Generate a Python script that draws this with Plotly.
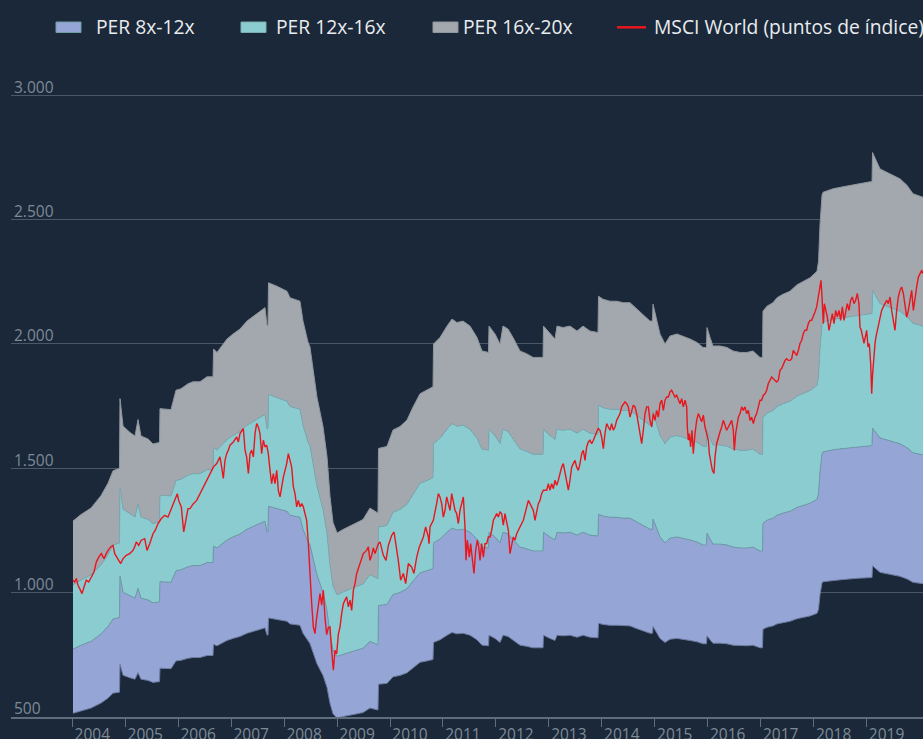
import plotly.graph_objects as go

# ---------------- DATA ----------------
# Time is expressed as decimal years.
# Earnings per share proxy (index points) -> PER bands = EPS x multiple
bpa_t_a = [2004.013, 2004.164, 2004.353, 2004.542, 2004.674, 2004.769, 2004.891, 2004.901, 2004.958, 2005.090,
           2005.184, 2005.241, 2005.297, 2005.430, 2005.524, 2005.619, 2005.647, 2005.656, 2005.864, 2005.958,
           2006.053, 2006.185, 2006.280, 2006.412, 2006.544, 2006.657, 2006.667, 2006.733, 2006.922, 2007.035,
           2007.167, 2007.299, 2007.488, 2007.639, 2007.677, 2007.696, 2007.705, 2007.866, 2008.055, 2008.111,
           2008.300, 2008.357, 2008.451, 2008.489, 2008.621, 2008.735, 2008.810, 2008.867, 2008.924, 2009.000,
           2009.112, 2009.245, 2009.377, 2009.490, 2009.622, 2009.755, 2009.773, 2009.783, 2009.943, 2010.057,
           2010.189, 2010.321, 2010.434, 2010.567, 2010.699, 2010.812, 2010.822, 2010.944, 2011.077, 2011.171,
           2011.265, 2011.379, 2011.511, 2011.643, 2011.738, 2011.860]
bpa_v_a = [64.4, 65.7, 67.0, 69.5, 72.0, 74.5, 75.0, 89.0, 83.5, 82.2,
           81.5, 84.8, 81.5, 80.9, 79.9, 80.2, 80.2, 87.0, 86.8, 90.7,
           91.0, 92.0, 92.4, 92.4, 93.4, 93.4, 99.0, 98.3, 101.0, 102.0,
           103.0, 104.6, 106.0, 107.3, 103.7, 103.7, 112.3, 111.6, 110.6, 109.3,
           108.6, 104.6, 100.4, 99.4, 89.3, 83.4, 77.4, 69.4, 64.1, 62.0,
           62.7, 63.4, 64.1, 64.7, 67.0, 66.0, 66.0, 79.0, 79.4, 82.7,
           83.4, 84.7, 87.3, 90.0, 90.7, 91.4, 100.0, 101.3, 103.6, 105.0,
           104.3, 104.6, 103.6, 101.3, 98.6, 98.3]
bpa_t_b = [2011.870, 2011.983, 2012.078, 2012.134, 2012.229, 2012.323, 2012.455, 2012.587, 2012.701, 2012.890,
           2012.899, 2013.022, 2013.116, 2013.154, 2013.267, 2013.400, 2013.532, 2013.645, 2013.777, 2013.928,
           2013.938, 2014.023, 2014.155, 2014.287, 2014.401, 2014.533, 2014.665, 2014.778, 2014.910, 2014.958,
           2014.967, 2015.043, 2015.099, 2015.194, 2015.288, 2015.420, 2015.534, 2015.666, 2015.798, 2015.911,
           2015.977, 2015.987, 2016.044, 2016.100, 2016.232, 2016.365, 2016.478, 2016.610, 2016.742, 2016.856,
           2016.988, 2017.035, 2017.044, 2017.120, 2017.233, 2017.309, 2017.422, 2017.554, 2017.687, 2017.800,
           2017.932, 2018.064, 2018.093, 2018.121, 2018.159, 2018.178, 2018.367, 2018.555, 2018.820, 2019.065,
           2019.103, 2019.113, 2019.254, 2019.443, 2019.632, 2019.764, 2019.877, 2020.066]
bpa_v_b = [103.6, 102.0, 100.0, 103.6, 103.0, 101.3, 98.6, 98.0, 97.3, 97.3,
           103.6, 102.0, 101.0, 103.6, 103.3, 103.6, 102.6, 103.6, 102.6, 102.3,
           109.6, 109.0, 108.6, 108.6, 108.3, 108.3, 106.9, 105.9, 104.6, 104.6,
           108.0, 104.6, 102.0, 100.0, 101.6, 102.0, 101.6, 101.0, 100.3, 99.3,
           99.3, 103.3, 101.3, 99.6, 99.6, 99.3, 98.6, 98.3, 98.3, 98.6,
           97.3, 97.3, 106.6, 107.6, 108.3, 109.3, 110.0, 110.6, 111.9, 112.6,
           113.3, 114.6, 116.6, 124.0, 129.9, 130.5, 131.2, 131.6, 132.2, 132.6,
           132.6, 138.5, 135.2, 134.2, 133.2, 131.9, 130.2, 129.5]

# MSCI World (index points)
msci_t_a = [2004.013, 2004.045, 2004.076, 2004.108, 2004.140, 2004.183, 2004.221, 2004.264, 2004.310, 2004.359,
            2004.410, 2004.453, 2004.499, 2004.548, 2004.599, 2004.642, 2004.674, 2004.725, 2004.769, 2004.801,
            2004.863, 2004.914, 2004.958, 2005.020, 2005.084, 2005.146, 2005.178, 2005.209, 2005.254, 2005.303,
            2005.367, 2005.411, 2005.462, 2005.524, 2005.568, 2005.619, 2005.681, 2005.745, 2005.807, 2005.870,
            2005.921, 2005.983, 2006.009, 2006.059, 2006.104, 2006.147, 2006.185]
msci_v_a = [1050, 1043, 1057, 1030, 1016, 996, 1023, 1050, 1043, 1063,
            1083, 1123, 1143, 1157, 1137, 1157, 1170, 1184, 1190, 1157,
            1137, 1117, 1137, 1150, 1157, 1170, 1184, 1204, 1190, 1211,
            1217, 1170, 1197, 1237, 1251, 1278, 1298, 1311, 1304, 1338,
            1358, 1398, 1371, 1345, 1244, 1298, 1338]
msci_t_b = [2006.223, 2006.286, 2006.349, 2006.412, 2006.475, 2006.538, 2006.601, 2006.664, 2006.727, 2006.789,
            2006.821, 2006.852, 2006.884, 2006.915, 2006.947, 2006.978, 2007.041, 2007.104, 2007.136, 2007.167,
            2007.230, 2007.262, 2007.293, 2007.325, 2007.356, 2007.388, 2007.419, 2007.451, 2007.482, 2007.514,
            2007.545, 2007.576, 2007.608, 2007.639, 2007.671, 2007.702, 2007.734, 2007.765, 2007.797, 2007.828,
            2007.860, 2007.891, 2007.923, 2007.954, 2007.986, 2008.049, 2008.080, 2008.112, 2008.143, 2008.175,
            2008.206, 2008.238, 2008.269, 2008.300, 2008.332, 2008.363, 2008.395, 2008.426, 2008.458, 2008.489,
            2008.521, 2008.552]
msci_v_b = [1338, 1358, 1371, 1398, 1425, 1452, 1479, 1505, 1519, 1546,
            1505, 1459, 1532, 1559, 1573, 1593, 1606, 1626, 1606, 1640,
            1660, 1573, 1546, 1479, 1559, 1573, 1546, 1640, 1680, 1666,
            1640, 1559, 1613, 1586, 1593, 1559, 1492, 1438, 1479, 1438,
            1492, 1411, 1385, 1425, 1465, 1519, 1559, 1532, 1505, 1425,
            1398, 1345, 1371, 1345, 1358, 1345, 1318, 1291, 1197, 1063,
            956, 862]
msci_t_c = [2008.583, 2008.615, 2008.646, 2008.678, 2008.709, 2008.741, 2008.772, 2008.804, 2008.835, 2008.867,
            2008.898, 2008.930, 2008.961, 2008.993, 2009.024, 2009.056, 2009.087, 2009.119, 2009.150, 2009.182,
            2009.213, 2009.245, 2009.276, 2009.308, 2009.339, 2009.371, 2009.433, 2009.496, 2009.559, 2009.591,
            2009.622, 2009.654, 2009.685, 2009.717, 2009.780, 2009.811, 2009.874, 2009.924, 2009.969, 2010.031,
            2010.076, 2010.126, 2010.157, 2010.201, 2010.252, 2010.296, 2010.346, 2010.409, 2010.453, 2010.504,
            2010.554, 2010.630, 2010.673, 2010.724, 2010.737]
msci_v_c = [835, 900, 960, 996, 950, 1010, 900, 831, 860, 862,
            768, 688, 768, 755, 831, 862, 916, 956, 970, 983,
            943, 970, 929, 1009, 1036, 1077, 1117, 1157, 1170, 1184,
            1130, 1150, 1180, 1157, 1197, 1204, 1150, 1130, 1190, 1230,
            1244, 1184, 1130, 1050, 1077, 1036, 1117, 1103, 1077, 1143,
            1184, 1224, 1264, 1224, 1197]
msci_t_d = [2010.755, 2010.818, 2010.881, 2010.913, 2010.944, 2010.976, 2011.007, 2011.039, 2011.070, 2011.102,
            2011.133, 2011.165, 2011.196, 2011.228, 2011.259, 2011.291, 2011.322, 2011.354, 2011.385, 2011.416,
            2011.435, 2011.460, 2011.498, 2011.523, 2011.561, 2011.586, 2011.618, 2011.649, 2011.675, 2011.700,
            2011.731, 2011.763, 2011.794, 2011.826, 2011.857, 2011.889, 2011.920, 2011.952, 2011.983, 2012.015,
            2012.046, 2012.077, 2012.109, 2012.140, 2012.172, 2012.203, 2012.235, 2012.266, 2012.298, 2012.329,
            2012.361, 2012.392, 2012.424, 2012.455, 2012.518, 2012.550, 2012.581, 2012.613, 2012.644, 2012.676,
            2012.707, 2012.738, 2012.770, 2012.801, 2012.833, 2012.864, 2012.896, 2012.959, 2012.990]
msci_v_d = [1264, 1291, 1358, 1398, 1385, 1358, 1304, 1331, 1385, 1358,
            1331, 1398, 1358, 1331, 1318, 1278, 1331, 1358, 1385, 1264,
            1130, 1211, 1143, 1197, 1117, 1077, 1170, 1211, 1184, 1130,
            1197, 1143, 1197, 1197, 1224, 1224, 1251, 1291, 1304, 1318,
            1304, 1324, 1318, 1271, 1318, 1291, 1251, 1157, 1197, 1224,
            1211, 1237, 1251, 1264, 1291, 1318, 1344, 1371, 1358, 1344,
            1331, 1291, 1331, 1358, 1371, 1398, 1412, 1412, 1438]
msci_t_e = [2013.022, 2013.053, 2013.085, 2013.116, 2013.148, 2013.179, 2013.211, 2013.242, 2013.273, 2013.305,
            2013.336, 2013.368, 2013.399, 2013.431, 2013.462, 2013.494, 2013.525, 2013.557, 2013.588, 2013.620,
            2013.651, 2013.683, 2013.714, 2013.746, 2013.777, 2013.809, 2013.840, 2013.872, 2013.903, 2013.934,
            2013.966, 2013.997, 2014.029, 2014.060, 2014.092, 2014.123, 2014.155, 2014.186, 2014.218, 2014.249,
            2014.281, 2014.312, 2014.344, 2014.375, 2014.407, 2014.438, 2014.470, 2014.501, 2014.533, 2014.564,
            2014.595, 2014.627, 2014.659, 2014.690, 2014.722, 2014.753, 2014.784, 2014.816, 2014.847, 2014.879,
            2014.910, 2014.942, 2014.973, 2015.005, 2015.036, 2015.068, 2015.099, 2015.131, 2015.162, 2015.194,
            2015.225, 2015.256]
msci_v_e = [1412, 1438, 1418, 1452, 1432, 1452, 1479, 1505, 1519, 1479,
            1438, 1412, 1452, 1505, 1519, 1532, 1505, 1492, 1519, 1559,
            1572, 1532, 1586, 1606, 1613, 1599, 1613, 1633, 1646, 1660,
            1653, 1626, 1579, 1640, 1680, 1666, 1653, 1680, 1653, 1666,
            1693, 1706, 1720, 1747, 1760, 1767, 1760, 1747, 1706, 1733,
            1754, 1747, 1720, 1680, 1646, 1599, 1653, 1720, 1747, 1747,
            1693, 1666, 1720, 1693, 1733, 1706, 1760, 1774, 1733, 1774,
            1787, 1787]
msci_t_f = [2015.288, 2015.319, 2015.351, 2015.382, 2015.414, 2015.445, 2015.477, 2015.508, 2015.540, 2015.571,
            2015.603, 2015.615, 2015.634, 2015.653, 2015.678, 2015.703, 2015.728, 2015.760, 2015.792, 2015.823,
            2015.855, 2015.886, 2015.918, 2015.949, 2015.981, 2016.012, 2016.031, 2016.056, 2016.088, 2016.119,
            2016.138, 2016.169, 2016.201, 2016.232, 2016.264, 2016.295, 2016.327, 2016.358, 2016.390, 2016.421,
            2016.453, 2016.484, 2016.503, 2016.528, 2016.547, 2016.579, 2016.610, 2016.642, 2016.673, 2016.704,
            2016.736, 2016.767, 2016.799, 2016.830, 2016.862, 2016.893, 2016.925, 2016.956, 2016.988, 2017.019,
            2017.051, 2017.082, 2017.114, 2017.145, 2017.176, 2017.208, 2017.239, 2017.271, 2017.302, 2017.334,
            2017.365, 2017.397, 2017.428, 2017.460, 2017.491, 2017.523]
msci_v_f = [1807, 1814, 1800, 1787, 1794, 1774, 1760, 1780, 1747, 1774,
            1747, 1666, 1613, 1640, 1586, 1653, 1559, 1640, 1693, 1720,
            1706, 1687, 1714, 1666, 1640, 1613, 1559, 1532, 1492, 1479,
            1546, 1599, 1626, 1646, 1666, 1693, 1673, 1653, 1666, 1680,
            1693, 1653, 1572, 1640, 1666, 1706, 1720, 1747, 1733, 1747,
            1720, 1733, 1693, 1706, 1680, 1706, 1720, 1747, 1774, 1774,
            1794, 1800, 1814, 1841, 1854, 1867, 1860, 1854, 1847, 1854,
            1894, 1901, 1921, 1934, 1941, 1934]
msci_t_g = [2017.554, 2017.586, 2017.617, 2017.649, 2017.680, 2017.712, 2017.743, 2017.775, 2017.806, 2017.837,
            2017.869, 2017.900, 2017.932, 2017.963, 2017.995, 2018.026, 2018.058, 2018.089, 2018.121, 2018.140,
            2018.159, 2018.184, 2018.203, 2018.228, 2018.259, 2018.291, 2018.322, 2018.354, 2018.385, 2018.417,
            2018.448, 2018.480, 2018.511, 2018.543, 2018.574, 2018.606, 2018.637, 2018.668, 2018.700, 2018.731,
            2018.763, 2018.794, 2018.826, 2018.857, 2018.876, 2018.901, 2018.927, 2018.952, 2018.977, 2019.002,
            2019.027, 2019.052, 2019.078, 2019.097, 2019.115, 2019.134, 2019.160, 2019.178, 2019.204, 2019.229,
            2019.254, 2019.285, 2019.317, 2019.348, 2019.380, 2019.411, 2019.443, 2019.474, 2019.506, 2019.537,
            2019.569, 2019.600, 2019.632, 2019.663, 2019.695, 2019.726, 2019.758, 2019.789, 2019.821, 2019.852,
            2019.884, 2019.915, 2019.946, 2019.978, 2020.009, 2020.041, 2020.066]
msci_v_g = [1934, 1941, 1974, 1961, 1954, 1974, 2002, 2015, 2042, 2055,
            2055, 2082, 2095, 2095, 2109, 2129, 2149, 2189, 2229, 2256,
            2189, 2082, 2162, 2135, 2109, 2055, 2082, 2122, 2082, 2135,
            2109, 2135, 2095, 2149, 2095, 2135, 2162, 2135, 2176, 2189,
            2162, 2176, 2203, 2162, 2068, 2055, 2029, 2002, 2029, 2055,
            1988, 2002, 1921, 1800, 1880, 1947, 2002, 2029, 2055, 2082,
            2109, 2135, 2149, 2162, 2176, 2162, 2189, 2135, 2095, 2055,
            2135, 2189, 2216, 2229, 2203, 2162, 2108, 2135, 2176, 2216,
            2135, 2189, 2229, 2269, 2283, 2296, 2283]

multiplos = [8, 12, 16, 20]
nombres_bandas = ["PER 8x-12x", "PER 12x-16x", "PER 16x-20x"]
nombre_msci = "MSCI World (puntos de índice)"
anios = list(range(2004, 2020))
anios_texto = [str(a) for a in anios]
y_ticks = [500, 1000, 1500, 2000, 2500, 3000]
y_ticks_texto = ["500", "1.000", "1.500", "2.000", "2.500", "3.000"]

# ---------------- STYLE ----------------
BG = "#1a2839"
colores_banda = ["#95a5d6", "#8bccd1", "#a3a8af"]
colores_borde = ["#6c7b9e", "#6f9da8", "#7eaab2", "#8f959c"]
ROJO = "#e8161d"
GRID = "#4a5868"
AXIS = "#5f6d7c"
TICKFONT = "#7e8a97"
LEGFONT = "#e9ecef"
FONT = "Open Sans"

bpa_t = bpa_t_a + bpa_t_b
bpa_v = bpa_v_a + bpa_v_b
msci_t = msci_t_a + msci_t_b + msci_t_c + msci_t_d + msci_t_e + msci_t_f + msci_t_g
msci_v = msci_v_a + msci_v_b + msci_v_c + msci_v_d + msci_v_e + msci_v_f + msci_v_g
assert len(bpa_t) == len(bpa_v)
assert len(msci_t) == len(msci_v)

fig = go.Figure()
fig.add_trace(go.Scatter(
    x=bpa_t, y=[e * multiplos[0] for e in bpa_v], mode="lines",
    line=dict(color=colores_borde[0], width=1), showlegend=False, hoverinfo="skip"))
for k in range(3):
    fig.add_trace(go.Scatter(
        x=bpa_t, y=[e * multiplos[k + 1] for e in bpa_v], mode="lines",
        fill="tonexty", fillcolor=colores_banda[k],
        line=dict(color=colores_borde[k + 1], width=1), name=nombres_bandas[k],
        showlegend=False))
fig.add_trace(go.Scatter(
    x=msci_t, y=msci_v, mode="lines", line=dict(color=ROJO, width=1.4),
    name=nombre_msci, showlegend=False))

# ---------------- LAYOUT ----------------
W, H = 923, 739
PL, PR, PT, PB = 11, 0, 45, 22
PW, PH = W - PL - PR, H - PT - PB
px_per_unit = 0.24868
y_max = 500 + PH / px_per_unit
x_left = 2004 - (72.3 - PL) / 52.95
x_right = x_left + PW / 52.95


def fx(p):
    return (p - PL) / PW


def fy(p):
    return (PT + PH - p) / PH


# custom legend (icons + labels) placed in the top band
shapes = []
annotations = []
icon_x = [56, 241, 433]
text_x = [96, 276, 463, 654]
for k in range(3):
    shapes.append(dict(type="rect", xref="paper", yref="paper",
                       x0=fx(icon_x[k]), x1=fx(icon_x[k] + 25), y0=fy(32.5), y1=fy(22),
                       fillcolor=colores_banda[k], line=dict(color=colores_borde[k + 1], width=1)))
shapes.append(dict(type="line", xref="paper", yref="paper",
                   x0=fx(617), x1=fx(646), y0=fy(27.3), y1=fy(27.3),
                   line=dict(color=ROJO, width=2.5)))
for k, txt in enumerate(nombres_bandas + [nombre_msci]):
    annotations.append(dict(text=txt, xref="paper", yref="paper", x=fx(text_x[k] - 2), y=fy(26.5),
                            xanchor="left", yanchor="middle", showarrow=False,
                            font=dict(family=FONT, size=19.3, color=LEGFONT)))

fig.update_layout(
    width=W, height=H, autosize=False,
    paper_bgcolor=BG, plot_bgcolor=BG,
    margin=dict(l=PL, r=PR, t=PT, b=PB, autoexpand=False),
    font=dict(family=FONT, color=TICKFONT),
    showlegend=False,
    shapes=shapes, annotations=annotations,
    xaxis=dict(range=[x_left, x_right], tickmode="array", tickvals=anios, ticktext=anios_texto,
               ticks="outside", ticklen=8, tickcolor=AXIS, tickwidth=1,
               showline=True, linecolor=AXIS, linewidth=1.5,
               showgrid=False, zeroline=False, ticklabelshift=20, ticklabelstandoff=-5,
               automargin=False, ticklabeloverflow="allow",
               tickfont=dict(family=FONT, size=15.5, color=TICKFONT)),
    yaxis=dict(range=[500, y_max], tickmode="array", tickvals=y_ticks, ticktext=y_ticks_texto,
               ticks="", showgrid=True, gridcolor=GRID, gridwidth=1,
               zeroline=False, showline=False, automargin=False,
               ticklabelposition="inside", ticklabelshift=-8, ticklabeloverflow="allow",
               tickfont=dict(family=FONT, size=15.5, color=TICKFONT)),
)

fig.write_html("out.html",
               config={"displayModeBar": False, "staticPlot": True},
               post_script="document.body.style.margin='0';document.body.style.background='%s';" % BG)
